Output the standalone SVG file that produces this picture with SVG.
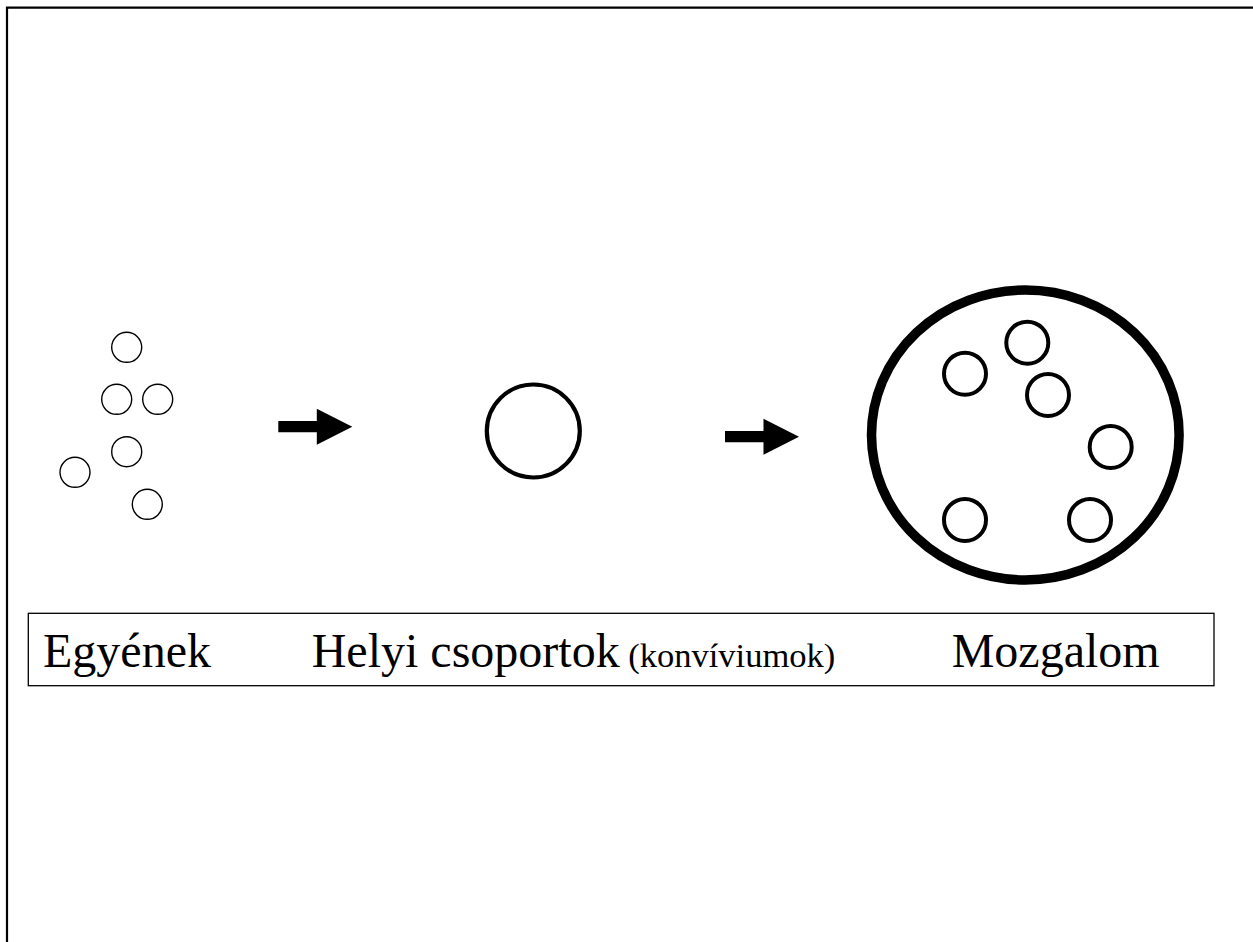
<svg xmlns="http://www.w3.org/2000/svg" width="1253" height="942" viewBox="0 0 1253 942">
<style>
.small{fill:none;stroke:#000;stroke-width:1.4}
.member{fill:none;stroke:#000;stroke-width:4}
.lbl{font-family:"Liberation Serif","Times New Roman",serif;font-size:48px;fill:#000}
.sub{font-size:34.5px}
</style>
<defs>
<path id="arr" d="M0,-5.6 H38.5 V-18 L74,0 L38.5,18 V5.6 H0 Z" fill="#000"/>
</defs>
<rect width="1253" height="942" fill="#fff"/>
<path d="M7,942 V7.7 H1253" fill="none" stroke="#000" stroke-width="2.2"/>
<g id="individuals">
<circle class="small" cx="126.7" cy="347.3" r="15"/>
<circle class="small" cx="116.7" cy="399.3" r="15"/>
<circle class="small" cx="157.7" cy="399.3" r="15"/>
<circle class="small" cx="126.7" cy="451.7" r="15"/>
<circle class="small" cx="75" cy="472.3" r="15"/>
<circle class="small" cx="147.3" cy="504.3" r="15"/>
</g>
<g id="local-group">
<circle cx="533.3" cy="431" r="46.5" fill="none" stroke="#000" stroke-width="4.2"/>
</g>
<g id="movement">
<ellipse cx="1025.3" cy="435" rx="153.8" ry="145" fill="none" stroke="#000" stroke-width="9.5"/>
<circle class="member" cx="965" cy="373.7" r="21"/>
<circle class="member" cx="1027.3" cy="342.7" r="21"/>
<circle class="member" cx="1048" cy="395" r="21"/>
<circle class="member" cx="1110.7" cy="447" r="21"/>
<circle class="member" cx="965" cy="520" r="21"/>
<circle class="member" cx="1090" cy="520" r="21"/>
</g>
<g id="connectors">
<use href="#arr" x="278.3" y="426.7"/>
<use href="#arr" x="725" y="436.7"/>
</g>
<g id="labels">
<rect x="28.3" y="613.3" width="1185.7" height="72.4" fill="none" stroke="#000" stroke-width="1.3"/>
<text class="lbl" x="43" y="667">Egyének</text>
<text class="lbl" x="311.7" y="667">Helyi csoportok</text>
<text class="lbl sub" x="628.3" y="667">(konvíviumok)</text>
<text class="lbl" x="951.7" y="667">Mozgalom</text>
</g>
</svg>
